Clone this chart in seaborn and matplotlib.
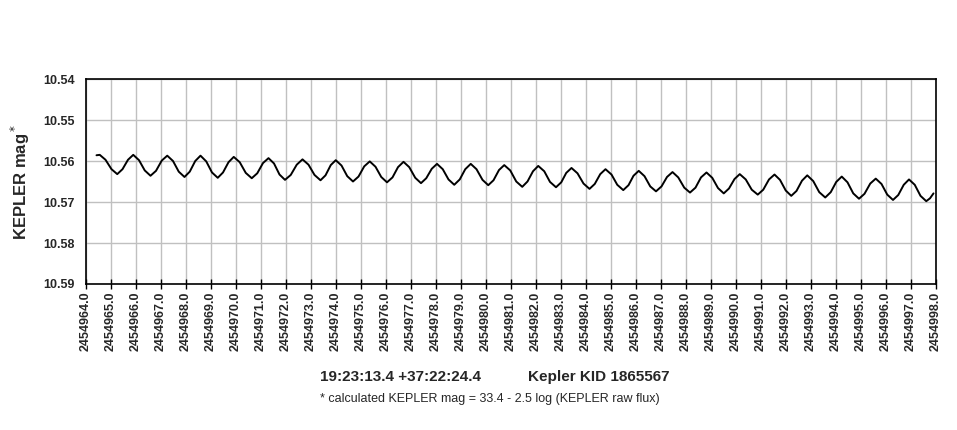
import pandas as pd
import matplotlib
matplotlib.use("Agg")
import matplotlib.pyplot as plt
import seaborn as sns
import numpy as np

# days after JD 2454964.0
jd_start = 2454964.0
days = [0.42, 0.55, 0.78, 1.02, 1.25, 1.46, 1.68, 1.89, 2.12, 2.35, 2.58, 2.80, 3.03, 3.25,
        3.48, 3.71, 3.94, 4.15, 4.37, 4.58, 4.81, 5.04, 5.27, 5.48, 5.70, 5.91, 6.15, 6.39,
        6.63, 6.85, 7.08, 7.30, 7.52, 7.74, 7.96, 8.19, 8.43, 8.66, 8.90, 9.14, 9.38, 9.58,
        9.79, 9.99, 10.22, 10.45, 10.68, 10.90, 11.13, 11.35, 11.58, 11.81, 12.04, 12.26,
        12.48, 12.70, 12.93, 13.17, 13.40, 13.61, 13.83, 14.04, 14.27, 14.50, 14.73, 14.95,
        15.17, 15.39, 15.62, 15.86, 16.09, 16.30, 16.52, 16.73, 16.97, 17.21, 17.45, 17.66,
        17.88, 18.09, 18.33, 18.56, 18.80, 19.01, 19.21, 19.42, 19.66, 19.90, 20.14, 20.35,
        20.57, 20.78, 21.02, 21.25, 21.49, 21.70, 21.90, 22.11, 22.34, 22.57, 22.80, 23.02,
        23.24, 23.46, 23.69, 23.93, 24.16, 24.38, 24.60, 24.82, 25.05, 25.28, 25.51, 25.72,
        25.94, 26.15, 26.39, 26.63, 26.87, 27.09, 27.32, 27.54, 27.76, 27.99, 28.21, 28.42,
        28.64, 28.85, 29.09, 29.33, 29.57, 29.79, 30.01, 30.23, 30.46, 30.69, 30.92, 31.14,
        31.37, 31.59, 31.82, 32.05, 32.28, 32.49, 32.71, 32.92, 33.15, 33.38, 33.61, 33.76,
        33.90]
mags = [10.5586, 10.5585, 10.5597, 10.5620, 10.5632, 10.5620, 10.5597, 10.5585, 10.5598,
        10.5623, 10.5636, 10.5624, 10.5599, 10.5587, 10.5600, 10.5626, 10.5639, 10.5626,
        10.5600, 10.5587, 10.5601, 10.5628, 10.5641, 10.5628, 10.5603, 10.5590, 10.5603,
        10.5629, 10.5642, 10.5630, 10.5605, 10.5593, 10.5606, 10.5633, 10.5646, 10.5634,
        10.5609, 10.5596, 10.5609, 10.5634, 10.5647, 10.5635, 10.5610, 10.5598, 10.5611,
        10.5637, 10.5650, 10.5638, 10.5613, 10.5601, 10.5614, 10.5639, 10.5652, 10.5640,
        10.5615, 10.5602, 10.5615, 10.5641, 10.5654, 10.5642, 10.5619, 10.5607, 10.5620,
        10.5645, 10.5658, 10.5645, 10.5620, 10.5607, 10.5620, 10.5646, 10.5659, 10.5647,
        10.5622, 10.5610, 10.5623, 10.5650, 10.5663, 10.5650, 10.5625, 10.5612, 10.5625,
        10.5651, 10.5664, 10.5652, 10.5629, 10.5617, 10.5630, 10.5655, 10.5668, 10.5656,
        10.5632, 10.5620, 10.5633, 10.5658, 10.5671, 10.5659, 10.5636, 10.5624, 10.5637,
        10.5662, 10.5674, 10.5662, 10.5639, 10.5627, 10.5640, 10.5665, 10.5677, 10.5665,
        10.5640, 10.5628, 10.5641, 10.5666, 10.5679, 10.5667, 10.5644, 10.5632, 10.5645,
        10.5670, 10.5682, 10.5670, 10.5645, 10.5633, 10.5646, 10.5672, 10.5685, 10.5673,
        10.5648, 10.5635, 10.5649, 10.5676, 10.5689, 10.5676, 10.5651, 10.5638, 10.5652,
        10.5679, 10.5692, 10.5680, 10.5655, 10.5643, 10.5656, 10.5682, 10.5695, 10.5683,
        10.5658, 10.5645, 10.5658, 10.5685, 10.5698, 10.5691, 10.5679]

x_ticks = [2454964 + i for i in range(35)]
y_ticks = [10.54, 10.55, 10.56, 10.57, 10.58, 10.59]

sns.set_theme(style="white")
plt.rcParams['font.family'] = ['Liberation Sans', 'DejaVu Sans']

df = pd.DataFrame({'jd': np.array(days) + jd_start, 'mag': mags})

fig = plt.figure(figsize=(9.57, 4.30), dpi=100)
ax = fig.add_axes([86 / 957, 1 - 284 / 430, (936 - 86) / 957, (284 - 79) / 430])
sns.lineplot(data=df, x='jd', y='mag', color='black', linewidth=1.4, ax=ax, sort=False)

ax.set_xlim(x_ticks[0], x_ticks[-1])
ax.set_ylim(y_ticks[-1], y_ticks[0])
ax.set_xticks(x_ticks)
ax.set_xticklabels([f"{t:.1f}" for t in x_ticks], rotation=90, fontsize=9, fontweight='bold')
ax.set_yticks(y_ticks)
ax.set_yticklabels([f"{v:.2f}" for v in y_ticks], fontsize=9, fontweight='bold')
ax.grid(True, color='#c0c0c0', linewidth=1.0)
ax.tick_params(axis='x', direction='inout', length=7, width=1, color='black', pad=2, bottom=True)
ax.tick_params(axis='y', length=0, pad=8)
for s in ax.spines.values():
    s.set_color('black')
    s.set_linewidth(1.2)
ax.set_xlabel('')
ax.set_ylabel(r'KEPLER mag$^*$', fontsize=12, fontweight='bold', labelpad=8)

fig.text(401 / 957, 1 - 377 / 430, '19:23:13.4 +37:22:24.4', ha='center', va='center',
         fontsize=11, fontweight='bold')
fig.text(528 / 957, 1 - 377 / 430, 'Kepler KID 1865567', ha='left', va='center',
         fontsize=11, fontweight='bold')
fig.text(490 / 957, 1 - 399 / 430, '* calculated KEPLER mag = 33.4 - 2.5 log (KEPLER raw flux)',
         ha='center', va='center', fontsize=9)

fig.savefig('out.png', dpi=100, facecolor='white')
